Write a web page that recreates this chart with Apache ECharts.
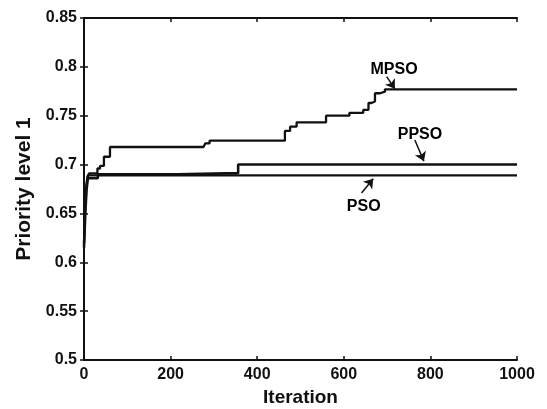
<!DOCTYPE html>
<html><head><meta charset="utf-8">
<script src="https://cdn.jsdelivr.net/npm/echarts@6/dist/echarts.min.js"></script>
<style>html,body{margin:0;padding:0;background:#fff}#c{width:547px;height:409px}</style>
</head><body><div id="c"></div>
<script>
// Data (iteration at which a new best value begins, value)
const xTickValues = [0, 200, 400, 600, 800, 1000];
const yTickValues = [0.5, 0.55, 0.6, 0.65, 0.7, 0.75, 0.8, 0.85];
const psoData = [[0,0.62],[2,0.655],[4,0.672],[7,0.683],[10,0.689],[1000,0.689]];
const ppsoData = [[0,0.615],[3,0.65],[6,0.675],[9,0.686],[32,0.690],[215,0.6912],[356,0.700],[1000,0.700]];
const mpsoData = [[0,0.62],[3,0.66],[6,0.68],[8,0.6877],[12,0.691],[31,0.696],[37,0.6986],[46,0.708],[60,0.718],
  [276,0.720],[280,0.7216],[290,0.7245],[464,0.7344],[476,0.7388],[491,0.7431],[559,0.750],[613,0.753],
  [645,0.756],[657,0.763],[664,0.7645],[672,0.773],[684,0.7746],[695,0.777],[1000,0.777]];
// Annotations: label, text position, arrow start, arrow end (data coords)
const annNames = ['MPSO', 'PPSO', 'PSO'];
const annText = [[716, 0.797], [776, 0.7305], [646, 0.6565]];
const annFrom = [[699, 0.790], [764, 0.7252], [641, 0.671]];
const annTo = [[718, 0.7775], [785, 0.7035], [668, 0.6855]];

const chart = echarts.init(document.getElementById('c'));
const font = 'Liberation Sans, Arial, sans-serif';
const axisCommon = {
  type: 'value', splitLine: {show: false},
  axisLine: {show: true, lineStyle: {color: '#111', width: 2}},
  axisTick: {show: true, inside: true, length: 4, lineStyle: {color: '#111', width: 1.5}},
};
const lineSeries = (name, data, w) => ({
  name, type: 'line', data, step: 'end', showSymbol: false, symbol: 'none',
  lineStyle: {color: '#111', width: w}, silent: true, z: 3
});
chart.setOption({
  animation: false,
  backgroundColor: '#fff',
  grid: {left: 84, right: 30, top: 18, bottom: 49, outerBoundsMode: 'none', containLabel: false},
  xAxis: [
    Object.assign({}, axisCommon, {min: 0, max: 1000, interval: 200, position: 'bottom',
      name: 'Iteration', nameLocation: 'middle', nameGap: 28,
      nameTextStyle: {fontFamily: font, fontWeight: 'bold', fontSize: 19, color: '#111'},
      axisLabel: {fontFamily: font, fontWeight: 'bold', fontSize: 16, color: '#111', margin: 7,
        formatter: v => String(v)}}),
    Object.assign({}, axisCommon, {min: 0, max: 1000, interval: 200, position: 'top', axisLabel: {show: false}})
  ],
  yAxis: [
    Object.assign({}, axisCommon, {min: 0.5, max: 0.85, interval: 0.05, position: 'left',
      name: 'Priority level 1', nameLocation: 'middle', nameGap: 48, nameRotate: 90,
      nameTextStyle: {fontFamily: font, fontWeight: 'bold', fontSize: 21, color: '#111'},
      axisLabel: {fontFamily: font, fontWeight: 'bold', fontSize: 16, color: '#111', margin: 7,
        formatter: v => String(+v.toFixed(2))}}),
    Object.assign({}, axisCommon, {min: 0.5, max: 0.85, interval: 0.05, position: 'right', axisLabel: {show: false}})
  ],
  series: [
    lineSeries('PSO', psoData, 2.2),
    lineSeries('PPSO', ppsoData, 2.6),
    lineSeries('MPSO', mpsoData, 2.3),
    {
      type: 'scatter', symbolSize: 0, silent: true, z: 5,
      itemStyle: {opacity: 1, color: '#111'},
      data: annNames.map((n, i) => ({value: annText[i], name: n})),
      label: {show: true, position: 'inside', formatter: p => p.name, opacity: 1,
        fontFamily: font, fontWeight: 'bold', fontSize: 16, color: '#000'},
      markLine: {
        silent: true, symbol: ['none', 'arrow'], symbolSize: 9,
        lineStyle: {color: '#111', width: 1.5, type: 'solid', opacity: 1}, label: {show: false},
        data: annNames.map((n, i) => [{coord: annFrom[i]}, {coord: annTo[i]}])
      }
    }
  ]
});
</script></body></html>
